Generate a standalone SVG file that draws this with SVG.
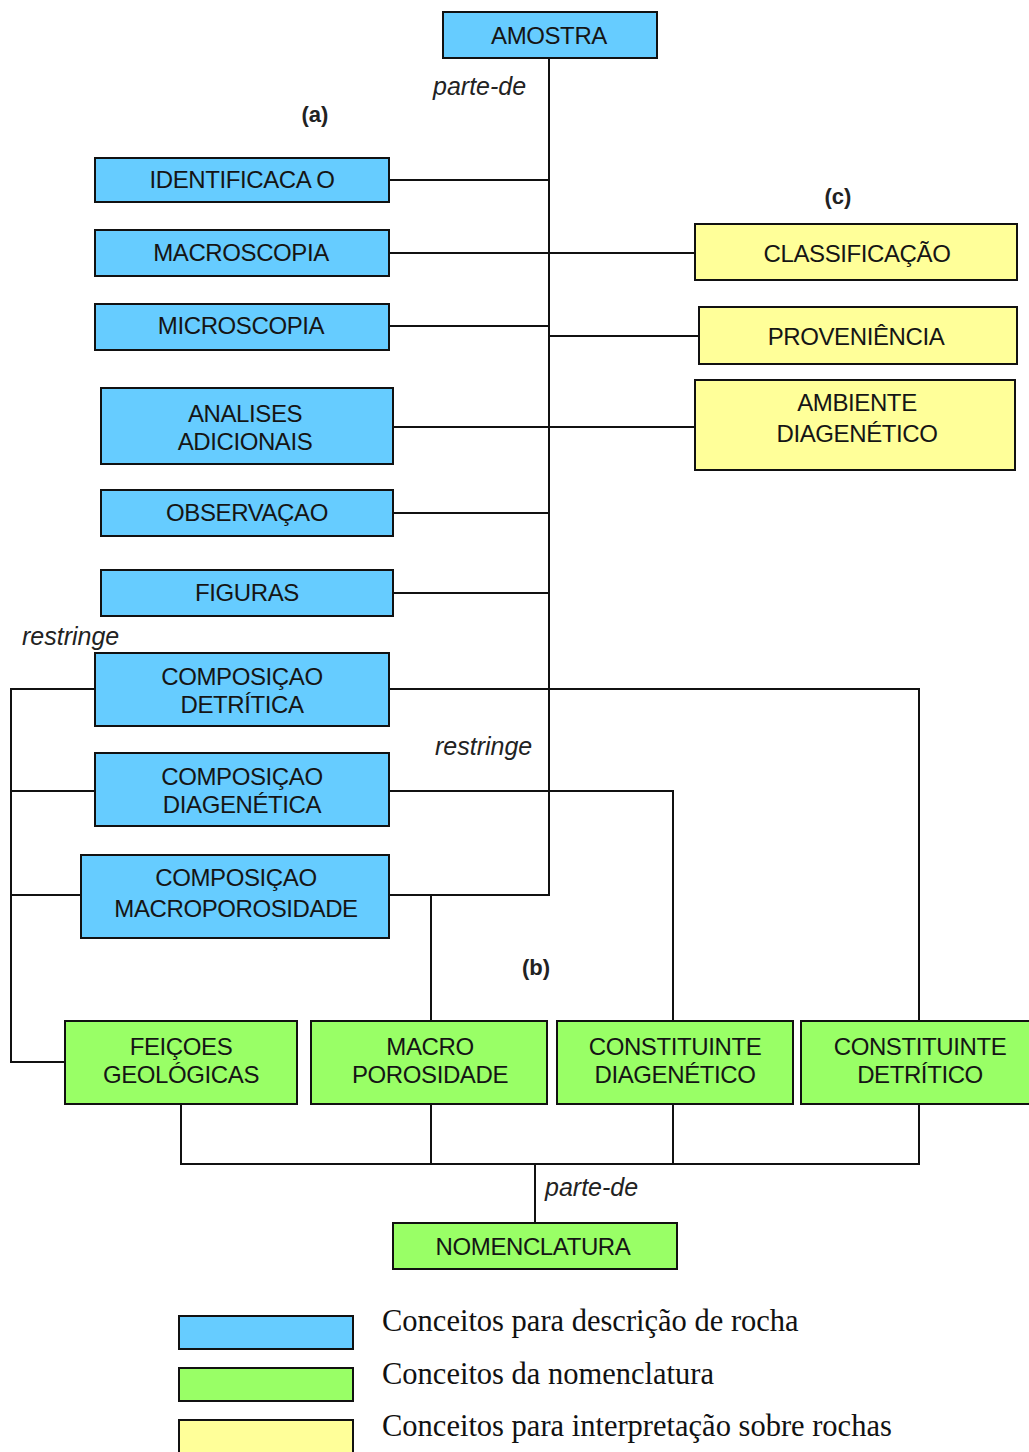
<svg xmlns="http://www.w3.org/2000/svg" width="1029" height="1452" viewBox="0 0 1029 1452">
  <style>
    .box rect { stroke: #111; stroke-width: 2; }
    .desc rect { fill: #66CCFF; }
    .nom rect { fill: #99FF66; }
    .interp rect { fill: #FFFF99; }
    .box text { font-family: "Liberation Sans", Arial, sans-serif; font-size: 24px; fill: #151515; text-anchor: middle; letter-spacing: -0.4px; }
    .conn { fill: none; stroke: #111; stroke-width: 2; }
    .rel { font-family: "Liberation Sans", Arial, sans-serif; font-size: 25px; font-style: italic; fill: #222; }
    .grp { font-family: "Liberation Sans", Arial, sans-serif; font-size: 22px; font-weight: bold; fill: #222; text-anchor: middle; }
    .leg rect { stroke: #111; stroke-width: 2; }
    .leg text { font-family: "Liberation Serif", "Times New Roman", serif; font-size: 30.5px; fill: #111; }
  </style>

  <rect width="1029" height="1452" fill="#fff"/>

  <!-- connectors -->
  <g id="connectors" class="conn">
    <path d="M549 58 V895 H389"/>
    <path d="M389 180 H549"/>
    <path d="M389 253 H695"/>
    <path d="M389 326 H549"/>
    <path d="M549 336 H699"/>
    <path d="M393 427 H695"/>
    <path d="M393 513 H549"/>
    <path d="M393 593 H549"/>
    <path d="M95 689 H11 V1062 H65"/>
    <path d="M11 791 H95"/>
    <path d="M11 895 H81"/>
    <path d="M389 689 H919 V1021"/>
    <path d="M389 791 H673 V1021"/>
    <path d="M431 895 V1021"/>
    <path d="M181 1104 V1164 H919 V1104"/>
    <path d="M431 1104 V1164"/>
    <path d="M673 1104 V1164"/>
    <path d="M535 1164 V1223"/>
  </g>

  <!-- relation labels -->
  <text class="rel" x="433" y="95">parte-de</text>
  <text class="rel" x="22" y="645">restringe</text>
  <text class="rel" x="435" y="755">restringe</text>
  <text class="rel" x="545" y="1196">parte-de</text>
  <text class="grp" x="315" y="122">(a)</text>
  <text class="grp" x="838" y="204">(c)</text>
  <text class="grp" x="536" y="975">(b)</text>

  <!-- rock description concepts -->
  <g id="amostra" class="box desc"><rect x="443" y="12" width="214" height="46"/><text x="549" y="44">AMOSTRA</text></g>
  <g id="identificacao" class="box desc"><rect x="95" y="158" width="294" height="44"/><text x="242" y="188">IDENTIFICACA O</text></g>
  <g id="macroscopia" class="box desc"><rect x="95" y="230" width="294" height="46"/><text x="241" y="261">MACROSCOPIA</text></g>
  <g id="microscopia" class="box desc"><rect x="95" y="304" width="294" height="46"/><text x="241" y="334">MICROSCOPIA</text></g>
  <g id="analises" class="box desc"><rect x="101" y="388" width="292" height="76"/><text x="245" y="422">ANALISES</text><text x="245" y="450">ADICIONAIS</text></g>
  <g id="observacao" class="box desc"><rect x="101" y="490" width="292" height="46"/><text x="247" y="521">OBSERVAÇAO</text></g>
  <g id="figuras" class="box desc"><rect x="101" y="570" width="292" height="46"/><text x="247" y="601">FIGURAS</text></g>
  <g id="comp-detritica" class="box desc"><rect x="95" y="653" width="294" height="73"/><text x="242" y="685">COMPOSIÇAO</text><text x="242" y="713">DETRÍTICA</text></g>
  <g id="comp-diagenetica" class="box desc"><rect x="95" y="753" width="294" height="73"/><text x="242" y="785">COMPOSIÇAO</text><text x="242" y="813">DIAGENÉTICA</text></g>
  <g id="comp-macroporosidade" class="box desc"><rect x="81" y="855" width="308" height="83"/><text x="236" y="886">COMPOSIÇAO</text><text x="236" y="917">MACROPOROSIDADE</text></g>

  <!-- interpretation concepts -->
  <g id="classificacao" class="box interp"><rect x="695" y="224" width="322" height="56"/><text x="857" y="262">CLASSIFICAÇÃO</text></g>
  <g id="proveniencia" class="box interp"><rect x="699" y="307" width="318" height="57"/><text x="856" y="345">PROVENIÊNCIA</text></g>
  <g id="ambiente" class="box interp"><rect x="695" y="380" width="320" height="90"/><text x="857" y="411">AMBIENTE</text><text x="857" y="442">DIAGENÉTICO</text></g>

  <!-- nomenclature concepts -->
  <g id="feicoes" class="box nom"><rect x="65" y="1021" width="232" height="83"/><text x="181" y="1055">FEIÇOES</text><text x="181" y="1083">GEOLÓGICAS</text></g>
  <g id="macro-porosidade" class="box nom"><rect x="311" y="1021" width="236" height="83"/><text x="430" y="1055">MACRO</text><text x="430" y="1083">POROSIDADE</text></g>
  <g id="const-diagenetico" class="box nom"><rect x="557" y="1021" width="236" height="83"/><text x="675" y="1055">CONSTITUINTE</text><text x="675" y="1083">DIAGENÉTICO</text></g>
  <g id="const-detritico" class="box nom"><rect x="801" y="1021" width="232" height="83"/><text x="920" y="1055">CONSTITUINTE</text><text x="920" y="1083">DETRÍTICO</text></g>
  <g id="nomenclatura" class="box nom"><rect x="393" y="1223" width="284" height="46"/><text x="533" y="1255">NOMENCLATURA</text></g>

  <!-- legend -->
  <g id="legend" class="leg">
    <rect x="179" y="1316" width="174" height="33" fill="#66CCFF"/>
    <rect x="179" y="1368" width="174" height="33" fill="#99FF66"/>
    <rect x="179" y="1420" width="174" height="40" fill="#FFFF99"/>
    <text x="382" y="1331">Conceitos para descrição de rocha</text>
    <text x="382" y="1384">Conceitos da nomenclatura</text>
    <text x="382" y="1436">Conceitos para interpretação sobre rochas</text>
  </g>
</svg>
